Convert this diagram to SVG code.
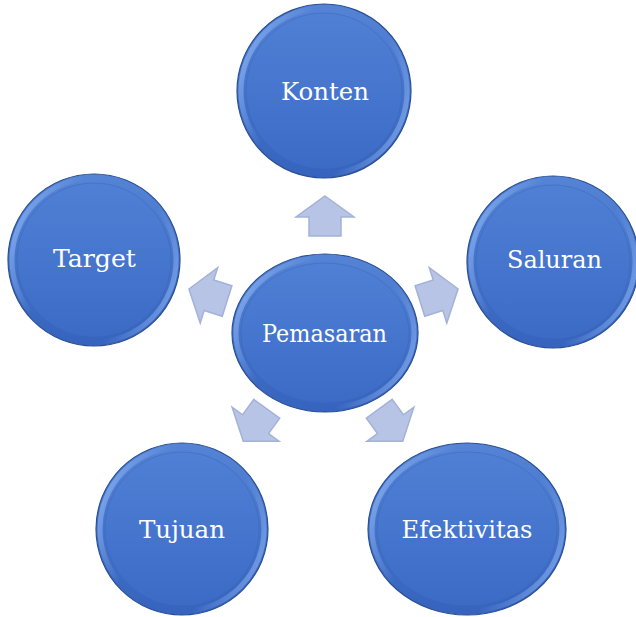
<svg xmlns="http://www.w3.org/2000/svg" xmlns:xlink="http://www.w3.org/1999/xlink" width="636" height="617" viewBox="0 0 636 617">
  <defs>
    <linearGradient id="gOuter" x1="0" y1="0" x2="0" y2="1">
      <stop offset="0" stop-color="#5584d6"/>
      <stop offset="1" stop-color="#3563bd"/>
    </linearGradient>
    <linearGradient id="gFace" x1="0" y1="0" x2="0" y2="1">
      <stop offset="0" stop-color="#4f80d5"/>
      <stop offset="1" stop-color="#3c6bc6"/>
    </linearGradient>
    <linearGradient id="gHl" x1="0" y1="0.3" x2="1" y2="0.7">
      <stop offset="0" stop-color="#86aef0" stop-opacity="0.8"/>
      <stop offset="0.28" stop-color="#86aef0" stop-opacity="0"/>
      <stop offset="0.72" stop-color="#86aef0" stop-opacity="0"/>
      <stop offset="1" stop-color="#86aef0" stop-opacity="0.7"/>
    </linearGradient>
    <path id="arr" d="M0,-20 L29,1 L16,1 L16,20 L-16,20 L-16,1 L-29,1 Z"/>
    <style>
      .outer { fill: url(#gOuter); stroke: #2a4f93; stroke-width: 1.2; }
      .hl { fill: none; stroke: url(#gHl); stroke-width: 5; }
      .face { fill: url(#gFace); stroke: #3a66b8; stroke-opacity: 0.5; stroke-width: 1; }
      .lbl { font-family: "DejaVu Serif", "Liberation Serif", serif; font-size: 24.5px; fill: #ffffff; text-anchor: middle; }
      .arrow { fill: #b7c4e5; stroke: #a2b2d8; stroke-width: 1.5; stroke-linejoin: miter; }
    </style>
  </defs>
  <rect width="636" height="617" fill="#ffffff"/>

  <g id="connectors">
    <use xlink:href="#arr" class="arrow" transform="translate(325,216)"/>
    <use xlink:href="#arr" class="arrow" transform="translate(208,295) rotate(-72.5)"/>
    <use xlink:href="#arr" class="arrow" transform="translate(439,295) rotate(72.5)"/>
    <use xlink:href="#arr" class="arrow" transform="translate(255,425) rotate(-144)"/>
    <use xlink:href="#arr" class="arrow" transform="translate(391,425) rotate(144)"/>
  </g>

  <g id="konten">
    <ellipse class="outer" cx="324" cy="91" rx="87" ry="87"/>
    <ellipse class="hl" cx="324" cy="91" rx="83" ry="83"/>
    <ellipse class="face" cx="324" cy="91" rx="78" ry="78"/>
    <text class="lbl" x="325" y="100" textLength="88" lengthAdjust="spacingAndGlyphs">Konten</text>
  </g>

  <g id="target">
    <ellipse class="outer" cx="94" cy="260" rx="86" ry="86"/>
    <ellipse class="hl" cx="94" cy="260" rx="82" ry="82"/>
    <ellipse class="face" cx="94" cy="260" rx="77" ry="77"/>
    <text class="lbl" x="94.5" y="267" textLength="83" lengthAdjust="spacingAndGlyphs">Target</text>
  </g>

  <g id="saluran">
    <ellipse class="outer" cx="553" cy="262" rx="86" ry="86"/>
    <ellipse class="hl" cx="553" cy="262" rx="82" ry="82"/>
    <ellipse class="face" cx="553" cy="262" rx="77" ry="77"/>
    <text class="lbl" x="554.5" y="268" textLength="95" lengthAdjust="spacingAndGlyphs">Saluran</text>
  </g>

  <g id="pemasaran">
    <ellipse class="outer" cx="325" cy="333" rx="93" ry="79"/>
    <ellipse class="hl" cx="325" cy="333" rx="89" ry="75"/>
    <ellipse class="face" cx="325" cy="333" rx="84" ry="70"/>
    <text class="lbl" x="324.5" y="342" textLength="125" lengthAdjust="spacingAndGlyphs">Pemasaran</text>
  </g>

  <g id="tujuan">
    <ellipse class="outer" cx="182" cy="529" rx="86" ry="86"/>
    <ellipse class="hl" cx="182" cy="529" rx="82" ry="82"/>
    <ellipse class="face" cx="182" cy="529" rx="77" ry="77"/>
    <text class="lbl" x="182" y="538" textLength="86" lengthAdjust="spacingAndGlyphs">Tujuan</text>
  </g>

  <g id="efektivitas">
    <ellipse class="outer" cx="467" cy="529" rx="99" ry="86"/>
    <ellipse class="hl" cx="467" cy="529" rx="95" ry="82"/>
    <ellipse class="face" cx="467" cy="529" rx="90" ry="77"/>
    <text class="lbl" x="467" y="538" textLength="131" lengthAdjust="spacingAndGlyphs">Efektivitas</text>
  </g>
</svg>
